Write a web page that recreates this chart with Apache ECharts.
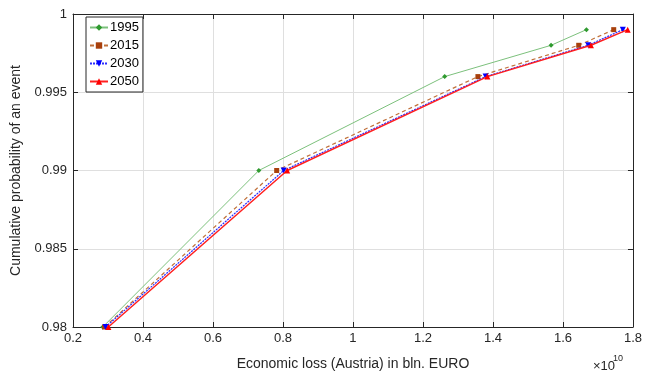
<!DOCTYPE html>
<html><head><meta charset="utf-8">
<script src="https://cdn.jsdelivr.net/npm/echarts@6/dist/echarts.min.js"></script>
<style>html,body{margin:0;padding:0;background:#fff}#c{width:645px;height:376px}</style>
</head><body><div id="c"></div>
<script>
// Economic loss in EURO (values), cumulative probability levels
const probLevels = [0.98, 0.99, 0.996, 0.998, 0.999];
const loss1995 = [2.85e9, 7.31e9, 12.62e9, 15.66e9, 16.67e9];
const loss2015 = [2.90e9, 7.82e9, 13.57e9, 16.45e9, 17.45e9];
const loss2030 = [2.93e9, 8.02e9, 13.79e9, 16.72e9, 17.71e9];
const loss2050 = [3.01e9, 8.12e9, 13.84e9, 16.80e9, 17.85e9];
const seriesNames = ['1995', '2015', '2030', '2050'];
const xTicks = [0.2, 0.4, 0.6, 0.8, 1, 1.2, 1.4, 1.6, 1.8];
const yTicks = [0.98, 0.985, 0.99, 0.995, 1];

const font = 'Liberation Sans, Arial, Helvetica, sans-serif';
const axCol = '#262626';
function pairs(xs){ return xs.map((x,i)=>[x, probLevels[i]]); }

const chart = echarts.init(document.getElementById('c'));
const common = {
  type:'line', showSymbol:true, symbolSize:6
};
chart.setOption({
  animation:false,
  textStyle:{fontFamily:font},
  grid:{left:73, right:9, top:14, bottom:46, show:false},
  legend:{
    orient:'vertical', left:86, top:17, padding:[4,4,4,3],
    itemWidth:18, itemHeight:8, itemGap:5,
    backgroundColor:'#fff', borderColor:axCol, borderWidth:1, borderRadius:0,
    textStyle:{fontFamily:font, fontSize:13, color:'#000', padding:[0,0,0,-3]},
    data:seriesNames
  },
  xAxis:[{
    type:'value', min:0.2e10, max:1.8e10, interval:0.2e10, position:'bottom',
    name:'Economic loss (Austria) in bln. EURO', nameLocation:'middle', nameGap:30,
    nameTextStyle:{fontSize:14, color:axCol, fontFamily:font},
    axisLine:{show:true, lineStyle:{color:axCol, width:1}},
    axisTick:{show:true, inside:true, length:5, lineStyle:{color:axCol}},
    axisLabel:{fontSize:13, color:axCol, margin:5, fontFamily:font,
      formatter:v=>String(parseFloat((v/1e10).toFixed(2)))},
    splitLine:{show:true, lineStyle:{color:'#dfdfdf', width:1}}
  },{
    type:'value', min:0.2e10, max:1.8e10, interval:0.2e10, position:'top',
    axisLine:{show:true, lineStyle:{color:axCol, width:1}},
    axisTick:{show:true, inside:true, length:5, lineStyle:{color:axCol}},
    axisLabel:{show:false}, splitLine:{show:false}
  }],
  yAxis:[{
    type:'value', min:0.98, max:1, interval:0.005, position:'left',
    name:'Cumulative probability of an event', nameLocation:'middle', nameGap:43,
    nameTextStyle:{fontSize:14, color:axCol, fontFamily:font},
    axisLine:{show:true, lineStyle:{color:axCol, width:1}},
    axisTick:{show:true, inside:true, length:5, lineStyle:{color:axCol}},
    axisLabel:{fontSize:13, color:axCol, margin:6, fontFamily:font,
      formatter:v=>String(parseFloat(v.toFixed(3)))},
    splitLine:{show:true, lineStyle:{color:'#dfdfdf', width:1}}
  },{
    type:'value', min:0.98, max:1, interval:0.005, position:'right',
    axisLine:{show:true, lineStyle:{color:axCol, width:1}},
    axisTick:{show:true, inside:true, length:5, lineStyle:{color:axCol}},
    axisLabel:{show:false}, splitLine:{show:false}
  }],
  graphic:[{
    type:'text', left:593, top:360,
    style:{text:'×10', fontSize:13, fill:axCol, fontFamily:font}
  },{
    type:'text', left:613, top:354,
    style:{text:'10', fontSize:9, fill:axCol, fontFamily:font}
  }],
  series:[
    Object.assign({}, common, {name:seriesNames[0], data:pairs(loss1995), z:2,
      symbol:'diamond', symbolSize:5,
      lineStyle:{color:'#7cc07c', width:1, type:'solid'},
      itemStyle:{color:'#2f9a2f'}}),
    Object.assign({}, common, {name:seriesNames[1], data:pairs(loss2015), z:3,
      symbol:'rect', symbolSize:5,
      lineStyle:{color:'#c0703a', width:1.2, type:[4,3]},
      itemStyle:{color:'#a8400c'}}),
    Object.assign({}, common, {name:seriesNames[2], data:pairs(loss2030), z:4,
      symbol:'triangle', symbolRotate:180, symbolSize:6,
      lineStyle:{color:'#2b2bff', width:1.2, type:[2,1]},
      itemStyle:{color:'#0000ff'}}),
    Object.assign({}, common, {name:seriesNames[3], data:pairs(loss2050), z:5,
      symbol:'triangle', symbolSize:6,
      lineStyle:{color:'#ff2020', width:1.5, type:'solid'},
      itemStyle:{color:'#ff0000'}})
  ]
});
</script></body></html>
